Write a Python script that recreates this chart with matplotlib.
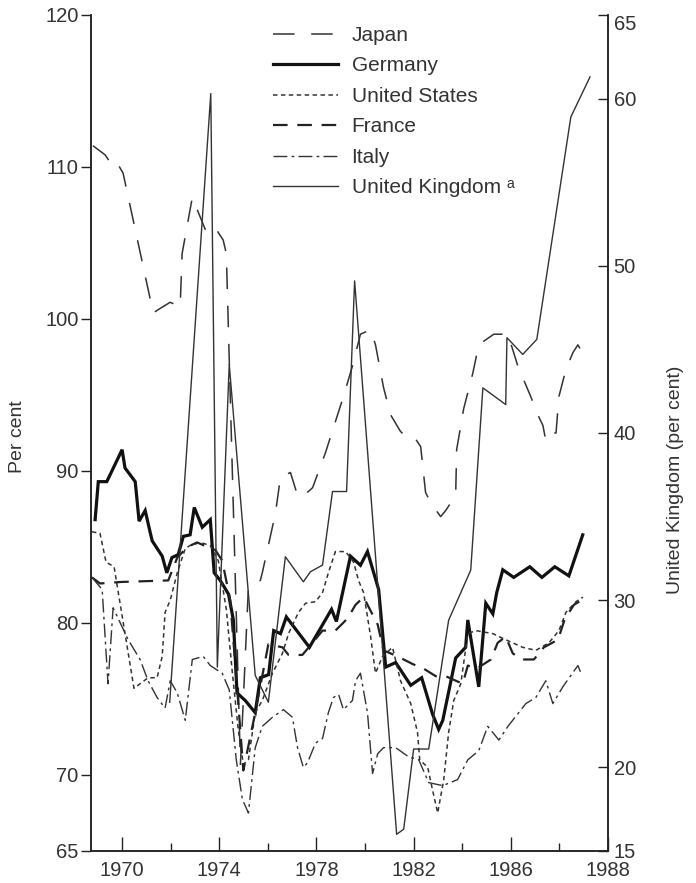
import matplotlib.pyplot as plt
from matplotlib.ticker import FixedLocator

plt.rcParams['font.family'] = ['Liberation Sans', 'DejaVu Sans']
plt.rcParams['lines.scale_dashes'] = False

# values (left axis: per cent, UK on right axis)
japan_x = [1968.80, 1969.30, 1969.51, 1969.71, 1970.04, 1971.28, 1971.57, 1971.98, 1972.39, 1972.47,
           1972.89, 1973.09, 1973.42, 1973.75, 1974.16, 1974.29, 1974.87, 1975.20, 1975.69, 1975.77,
           1976.31, 1976.52, 1976.93, 1977.22, 1977.42, 1977.84, 1978.37, 1979.11, 1979.48, 1979.81,
           1980.23, 1980.43, 1980.76, 1981.05, 1981.46, 1981.67, 1982.00, 1982.29, 1982.49, 1982.70,
           1983.11, 1983.32, 1983.73, 1983.77, 1984.06, 1984.43, 1984.68, 1984.85, 1985.30, 1985.88,
           1986.29, 1986.82, 1987.11, 1987.32, 1987.44, 1987.65, 1987.86, 1987.98, 1988.27, 1988.56,
           1988.76, 1989.01]
japan = [111.4, 110.8, 110.3, 110.5, 109.6, 100.4, 100.7, 101.1, 100.8, 104.3,
         108.0, 107.2, 105.9, 106.2, 105.2, 104.3, 70.7, 82.4, 82.8, 83.3,
         87.2, 89.6, 89.9, 88.4, 88.3, 88.9, 91.2, 94.9, 96.9, 99.0,
         99.3, 98.3, 95.5, 93.7, 92.6, 92.3, 92.3, 91.6, 88.6, 87.9,
         87.0, 87.4, 88.4, 91.4, 94.1, 96.4, 98.3, 98.5, 99.0, 99.0,
         96.9, 94.9, 93.7, 93.0, 92.0, 92.5, 92.5, 94.9, 96.7, 97.8,
         98.3, 97.6]

germany_x = [1968.89, 1969.02, 1969.37, 1970.00, 1970.12, 1970.54, 1970.70, 1970.95, 1971.15, 1971.24,
             1971.65, 1971.84, 1972.05, 1972.31, 1972.52, 1972.80, 1972.97, 1973.30, 1973.63, 1973.79,
             1974.04, 1974.38, 1974.58, 1974.73, 1975.07, 1975.48, 1975.69, 1976.03, 1976.24, 1976.52,
             1976.76, 1977.71, 1978.62, 1978.82, 1979.40, 1979.81, 1980.10, 1980.56, 1980.85, 1981.26,
             1981.88, 1982.33, 1982.78, 1983.03, 1983.20, 1983.73, 1984.14, 1984.23, 1984.68, 1984.97,
             1985.26, 1985.42, 1985.67, 1986.12, 1986.78, 1987.28, 1987.81, 1988.39, 1988.96]
germany = [86.8, 89.3, 89.3, 91.4, 90.2, 89.3, 86.7, 87.4, 86.0, 85.4,
           84.4, 83.3, 84.3, 84.5, 85.7, 85.8, 87.6, 86.3, 86.8, 83.3,
           82.8, 81.9, 80.2, 75.4, 74.9, 74.1, 76.4, 76.6, 79.5, 79.3,
           80.4, 78.4, 80.9, 80.1, 84.4, 83.8, 84.7, 82.2, 77.1, 77.4,
           75.9, 76.4, 74.0, 73.0, 73.6, 77.7, 78.4, 80.2, 75.8, 81.3,
           80.6, 82.0, 83.5, 83.0, 83.7, 83.0, 83.7, 83.1, 85.8]

us_x = [1968.76, 1969.09, 1969.34, 1969.67, 1970.49, 1971.07, 1971.44, 1971.65, 1971.77, 1971.98,
        1972.27, 1972.60, 1972.80, 1973.22, 1973.63, 1973.96, 1974.29, 1974.54, 1974.78, 1974.99,
        1975.20, 1975.48, 1975.77, 1976.19, 1976.60, 1976.85, 1977.26, 1977.55, 1977.96, 1978.25,
        1978.49, 1978.78, 1979.20, 1979.53, 1979.73, 1979.94, 1980.23, 1980.43, 1980.72, 1981.13,
        1981.46, 1981.88, 1982.16, 1982.25, 1982.58, 1982.78, 1982.99, 1983.24, 1983.44, 1983.65,
        1983.94, 1984.23, 1984.56, 1985.26, 1985.79, 1986.49, 1987.03, 1987.57, 1987.98, 1988.27,
        1988.68, 1988.97]
us = [86.0, 85.9, 84.0, 83.7, 75.7, 76.4, 76.4, 77.8, 80.7, 81.5,
      83.3, 84.9, 85.1, 85.3, 85.1, 84.1, 80.9, 76.7, 73.0, 70.7,
      71.0, 74.1, 74.9, 76.7, 78.0, 79.3, 80.7, 81.3, 81.4, 82.0,
      83.3, 84.7, 84.7, 84.0, 82.8, 82.0, 79.1, 76.7, 77.8, 78.4,
      76.2, 74.7, 72.8, 71.0, 70.5, 69.0, 67.5, 69.7, 72.8, 74.9,
      76.0, 79.3, 79.5, 79.3, 78.9, 78.4, 78.2, 78.7, 79.5, 80.7,
      81.4, 81.7]

france_x = [1968.76, 1969.09, 1969.96, 1971.90, 1972.27, 1972.68, 1973.09, 1973.51, 1973.84, 1974.12,
            1974.45, 1974.74, 1974.99, 1975.48, 1976.02, 1976.60, 1976.85, 1977.42, 1977.84, 1978.25,
            1978.78, 1979.28, 1979.61, 1979.94, 1980.52, 1980.76, 1981.34, 1981.96, 1982.41, 1982.91,
            1983.32, 1984.02, 1984.23, 1984.60, 1985.18, 1985.46, 1985.79, 1986.08, 1986.45, 1986.95,
            1987.36, 1987.94, 1988.23, 1988.60, 1989.01]
france = [83.0, 82.6, 82.7, 82.8, 84.3, 85.0, 85.3, 85.0, 84.8, 84.1,
          81.5, 75.6, 70.3, 74.1, 78.6, 78.4, 77.9, 77.9, 78.7, 79.5,
          79.5, 80.3, 81.2, 81.7, 79.9, 78.2, 77.8, 77.3, 77.0, 76.5,
          76.5, 76.0, 77.2, 77.0, 77.6, 78.7, 79.1, 78.0, 77.6, 77.6,
          78.4, 78.9, 80.3, 81.2, 81.6]

italy_x = [1968.76, 1969.18, 1969.42, 1969.63, 1970.25, 1970.74, 1971.07, 1971.44, 1971.77, 1971.98,
           1972.27, 1972.60, 1972.89, 1973.34, 1973.63, 1973.92, 1974.12, 1974.41, 1974.70, 1974.95,
           1975.20, 1975.48, 1975.77, 1976.19, 1976.64, 1977.01, 1977.22, 1977.46, 1977.63, 1977.96,
           1978.25, 1978.49, 1978.70, 1978.91, 1979.11, 1979.48, 1979.61, 1979.81, 1980.10, 1980.31,
           1980.52, 1980.76, 1981.26, 1981.79, 1982.21, 1982.62, 1983.20, 1983.81, 1984.23, 1984.68,
           1985.05, 1985.51, 1985.88, 1986.62, 1987.03, 1987.44, 1987.73, 1988.14, 1988.76, 1988.89]
italy = [83.0, 82.2, 76.0, 81.0, 78.9, 77.6, 76.2, 75.1, 74.4, 76.2,
         75.4, 73.6, 77.6, 77.8, 77.2, 76.9, 76.7, 75.6, 71.0, 68.4,
         67.5, 71.8, 73.2, 73.8, 74.3, 73.8, 71.8, 70.5, 70.8, 72.1,
         72.4, 74.1, 75.1, 75.3, 74.3, 74.9, 76.2, 76.7, 74.1, 70.1,
         71.4, 71.8, 71.8, 71.2, 71.0, 69.5, 69.3, 69.7, 71.0, 71.6,
         73.2, 72.3, 73.2, 74.7, 75.1, 76.2, 74.7, 75.8, 77.2, 76.7]

uk_x = [1971.96, 1973.65, 1973.92, 1974.41, 1975.48, 1976.02, 1976.72, 1977.46, 1977.75, 1978.25,
        1978.66, 1979.24, 1979.57, 1981.30, 1981.59, 1982.00, 1982.62, 1983.44, 1984.35, 1984.85,
        1985.79, 1985.84, 1986.49, 1987.07, 1988.47, 1989.26]
uk = [23.9, 60.3, 26.0, 44.1, 25.5, 23.9, 32.6, 31.1, 31.7, 32.1,
      36.5, 36.5, 49.1, 16.0, 16.3, 21.1, 21.1, 28.8, 31.8, 42.7,
      41.7, 45.7, 44.7, 45.6, 58.9, 61.3]

year_ticks = [1970, 1974, 1978, 1982, 1986, 1990]
year_labels = ['1970', '1974', '1978', '1982', '1986', '1988']
left_ticks = [65, 70, 80, 90, 100, 110, 120]
right_ticks = [15, 20, 30, 40, 50, 60, 65]

ink = '#222222'
txt = '#333333'

fig = plt.figure(figsize=(6.96, 8.83), dpi=100)
ax = fig.add_axes([91/696, 32/883, 517/696, 836/883])
ax2 = ax.twinx()

l_jp, = ax.plot(japan_x, japan, color='#333333', lw=1.1, dashes=(15.5, 12))
l_de, = ax.plot(germany_x, germany, color='#111111', lw=2.3, solid_joinstyle='miter')
l_us, = ax.plot(us_x, us, color='#333333', lw=1.1, dashes=(3.2, 2.5))
l_fr, = ax.plot(france_x, france, color='#222222', lw=1.6, dashes=(10.5, 7))
l_it, = ax.plot(italy_x, italy, color='#333333', lw=1.0, dashes=(10, 3, 2, 3))
l_uk, = ax2.plot(uk_x, uk, color='#333333', lw=1.0)

ax.set_xlim(1968.72, 1990)
ax.set_ylim(65, 120)
ax2.set_ylim(15, 65)

for a in (ax, ax2):
    a.spines['top'].set_visible(False)
    for s in ('left', 'right', 'bottom'):
        a.spines[s].set_color(ink)
        a.spines[s].set_linewidth(1.1)

ax.set_xticks(year_ticks)
ax.set_xticklabels(year_labels)
ax.xaxis.set_minor_locator(FixedLocator([1972, 1976, 1980, 1984, 1988]))
ax.tick_params(axis='x', which='major', direction='in', length=10, width=1, color=ink,
               labelsize=14.5, labelcolor=txt, pad=7)
ax.tick_params(axis='x', which='minor', direction='in', length=6, width=1, color=ink)

ax.set_yticks(left_ticks)
ax.tick_params(axis='y', direction='out', length=7, width=1, color=ink,
               labelsize=14.5, labelcolor=txt, pad=2)
ax2.set_yticks(right_ticks)
ax2.tick_params(axis='y', direction='in', length=7, width=1, color=ink,
                labelsize=14.5, labelcolor=txt, pad=4)
rlabels = ax2.get_yticklabels()
rlabels[-1].set_va('top')

fig.text(18/696, 1 - 437/883, 'Per cent', rotation=90, ha='center', va='center',
         fontsize=14, color=txt)
fig.text(676/696, 1 - 480/883, 'United Kingdom (per cent)', rotation=90, ha='center',
         va='center', fontsize=14, color=txt)

fig.legend([l_jp, l_de, l_us, l_fr, l_it, l_uk],
           ['Japan', 'Germany', 'United States', 'France', 'Italy', 'United Kingdom \u1d43'],
           loc='upper left', bbox_to_anchor=(273/696, 1 - 26/883), frameon=False,
           fontsize=15, labelcolor=txt, handlelength=3.1, handletextpad=0.67,
           labelspacing=0.55, borderpad=0, borderaxespad=0)

fig.savefig('out.png', dpi=100, facecolor='white')
